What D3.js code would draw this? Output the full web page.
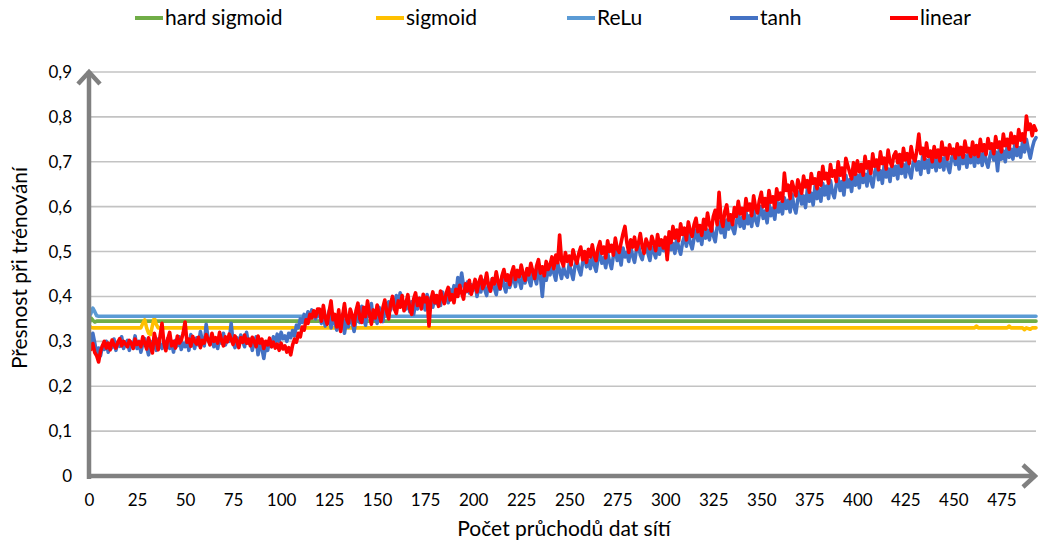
<!DOCTYPE html>
<html><head><meta charset="utf-8">
<script src="https://cdn.jsdelivr.net/npm/d3@7/dist/d3.min.js"></script>
<style>
body{margin:0;background:#fff}
text{font-family:Lato,"Open Sans",sans-serif;fill:#000}
</style>
</head><body>
<svg id="chart" width="1038" height="544"></svg>
<script>
const seriesNames = ["hard sigmoid","sigmoid","ReLu","tanh","linear"];
const seriesColors = ["#70AD47","#FFC000","#5B9BD5","#4472C4","#FF0000"];
const xTickLabels = [0,25,50,75,100,125,150,175,200,225,250,275,300,325,350,375,400,425,450,475];
const yTickValues = [0,0.1,0.2,0.3,0.4,0.5,0.6,0.7,0.8,0.9];
const xTitle = "Počet průchodů dat sítí";
const yTitle = "Přesnost při trénování";
const lastIndex = 493;

// flat series given as (index, value) pairs where they change
const hardSigmoidIdx = [0,1,2,3,4,493];
const hardSigmoidVals = [.338,.352,.347,.343,.345,.345];
const sigmoidIdx = [0,1,2,27,28,29,30,31,32,33,34,35,36,461,462,463,478,479,480,486,487,488,490,491,493];
const sigmoidVals = [.335,.331,.330,.330,.340,.348,.330,.318,.315,.335,.352,.338,.330,.330,.334,.330,.330,.334,.330,.330,.326,.330,.327,.330,.330];
const reluIdx = [0,1,2,3,4,5,493];
const reluVals = [.355,.362,.374,.366,.357,.356,.356];

const tanhVals = [
.275,.300,.318,.296,.272,.285,.268,.290,.282,.300,.276,.294,.286,.305,.280,.298,.289,.310,.284,.296,
.302,.280,.298,.290,.312,.284,.300,.276,.295,.306,.288,.270,.300,.285,.296,.280,.305,.292,.284,.300,
.290,.306,.284,.298,.276,.302,.290,.310,.282,.296,.288,.304,.280,.315,.296,.284,.308,.292,.322,.300,
.290,.338,.305,.294,.312,.288,.300,.284,.310,.296,.318,.292,.306,.300,.340,.298,.286,.308,.295,.314,
.300,.288,.320,.296,.305,.280,.298,.310,.270,.295,.285,.262,.292,.280,.302,.288,.310,.296,.316,.300,
.320,.306,.312,.300,.318,.308,.324,.312,.336,.330,.350,.342,.360,.348,.366,.352,.370,.358,.350,.364,
.362,.340,.356,.334,.348,.368,.330,.352,.342,.325,.350,.338,.360,.318,.346,.332,.356,.344,.322,.350,
.368,.342,.378,.350,.336,.370,.356,.384,.348,.362,.340,.376,.358,.344,.380,.362,.388,.370,.395,.378,
.402,.380,.408,.392,.386,.372,.398,.366,.388,.360,.384,.372,.396,.378,.392,.370,.404,.380,.396,.376,
.402,.384,.398,.380,.410,.390,.404,.386,.416,.396,.424,.402,.442,.418,.452,.424,.410,.432,.408,.426,
.414,.432,.400,.424,.410,.436,.416,.402,.430,.412,.440,.420,.404,.432,.416,.444,.424,.410,.438,.420,
.434,.446,.422,.452,.436,.418,.448,.430,.456,.438,.424,.460,.442,.428,.464,.446,.400,.452,.436,.458,
.448,.470,.452,.436,.474,.458,.440,.466,.450,.443,.472,.456,.438,.468,.482,.460,.448,.476,.488,.466,
.480,.462,.492,.470,.456,.484,.498,.474,.486,.464,.496,.478,.462,.490,.504,.480,.494,.470,.508,.488,
.498,.478,.512,.490,.476,.504,.516,.492,.482,.506,.520,.496,.480,.510,.500,.486,.514,.494,.522,.502,
.512,.490,.526,.504,.518,.496,.530,.508,.494,.520,.534,.512,.542,.520,.506,.530,.548,.524,.538,.516,
.552,.530,.548,.526,.560,.536,.522,.554,.566,.542,.558,.532,.570,.550,.578,.552,.540,.566,.582,.556,
.576,.552,.588,.562,.580,.556,.594,.570,.558,.584,.600,.574,.590,.564,.606,.580,.596,.572,.614,.588,
.608,.584,.620,.596,.614,.588,.628,.600,.586,.616,.634,.606,.624,.598,.640,.612,.630,.604,.646,.618,
.640,.612,.652,.626,.646,.618,.658,.632,.620,.648,.664,.636,.656,.626,.670,.644,.660,.634,.676,.648,
.670,.642,.682,.654,.672,.646,.686,.658,.644,.676,.690,.660,.680,.652,.694,.666,.684,.656,.698,.670,
.690,.662,.702,.674,.694,.666,.704,.678,.664,.696,.708,.682,.700,.672,.712,.686,.704,.676,.714,.688,
.706,.680,.716,.688,.708,.682,.718,.690,.676,.706,.720,.694,.712,.684,.722,.696,.714,.688,.724,.698,
.716,.690,.726,.698,.718,.692,.728,.702,.688,.712,.730,.704,.722,.680,.732,.706,.724,.700,.734,.710,
.728,.706,.740,.714,.732,.710,.744,.722,.750,.728,.708,.730,.746,.754
];

const linearVals = [
.287,.282,.295,.275,.268,.254,.278,.290,.300,.285,.296,.281,.303,.292,.285,.298,.306,.290,.300,.294,
.288,.302,.296,.284,.305,.293,.299,.288,.310,.296,.283,.308,.290,.274,.318,.300,.281,.312,.340,.296,
.279,.305,.320,.290,.300,.285,.312,.296,.302,.318,.343,.298,.305,.289,.311,.300,.294,.309,.286,.302,
.296,.315,.304,.292,.318,.300,.308,.296,.320,.302,.290,.310,.299,.316,.305,.293,.312,.300,.286,.308,
.298,.314,.296,.305,.290,.309,.300,.288,.312,.296,.305,.284,.300,.292,.307,.288,.298,.285,.294,.280,
.296,.283,.290,.276,.286,.270,.292,.305,.298,.318,.310,.332,.325,.348,.340,.360,.352,.368,.355,.372,
.372,.345,.380,.352,.338,.366,.390,.348,.360,.332,.370,.322,.356,.384,.350,.340,.372,.358,.336,.368,
.385,.350,.342,.376,.355,.390,.362,.338,.370,.352,.381,.360,.344,.375,.392,.366,.350,.384,.400,.372,
.362,.390,.376,.402,.368,.385,.404,.372,.360,.394,.408,.380,.396,.372,.405,.388,.398,.334,.392,.410,
.386,.402,.378,.412,.396,.384,.408,.420,.392,.404,.386,.416,.400,.425,.408,.394,.428,.412,.436,.405,
.420,.438,.410,.432,.445,.418,.428,.452,.424,.412,.440,.428,.455,.432,.418,.446,.460,.436,.448,.426,
.452,.466,.438,.458,.444,.470,.450,.436,.462,.448,.474,.456,.440,.468,.482,.452,.466,.446,.478,.460,
.470,.488,.462,.492,.475,.537,.480,.468,.498,.478,.490,.470,.504,.486,.474,.496,.510,.482,.500,.476,
.505,.488,.515,.492,.480,.508,.522,.496,.510,.486,.524,.500,.514,.492,.530,.506,.498,.520,.540,.556,
.520,.498,.526,.510,.532,.504,.518,.540,.512,.496,.528,.516,.506,.534,.520,.502,.538,.514,.526,.508,
.532,.482,.544,.520,.556,.530,.548,.524,.562,.538,.552,.526,.566,.546,.534,.560,.574,.544,.558,.536,
.572,.550,.586,.560,.546,.578,.592,.560,.632,.574,.556,.590,.604,.570,.582,.560,.598,.578,.612,.584,
.596,.574,.618,.592,.606,.580,.624,.598,.586,.614,.632,.600,.618,.592,.636,.610,.622,.598,.640,.616,
.630,.612,.675,.636,.648,.618,.656,.640,.624,.660,.646,.630,.668,.644,.658,.632,.674,.652,.662,.640,
.676,.648,.690,.662,.674,.652,.694,.668,.680,.656,.700,.670,.686,.660,.708,.692,.676,.662,.698,.672,
.702,.678,.694,.670,.712,.686,.700,.674,.718,.690,.704,.682,.722,.696,.708,.684,.726,.700,.690,.714,
.722,.698,.716,.690,.730,.704,.718,.696,.734,.710,.702,.726,.762,.718,.730,.706,.742,.712,.724,.700,
.734,.710,.726,.702,.744,.716,.730,.706,.738,.718,.728,.708,.740,.716,.732,.710,.746,.722,.730,.712,
.744,.716,.736,.712,.750,.724,.738,.716,.752,.730,.740,.718,.756,.732,.744,.722,.762,.736,.750,.728,
.764,.742,.756,.734,.772,.748,.762,.744,.802,.772,.784,.758,.780,.770
];

const svg = d3.select("#chart");
const x = d3.scaleLinear().domain([0, lastIndex]).range([89, 1036]);
const y = d3.scaleLinear().domain([0, 0.9]).range([476, 72]);

// gridlines
svg.append("g").selectAll("line").data(yTickValues.filter(v => v > 0)).join("line")
  .attr("x1", x(0)).attr("x2", x(lastIndex))
  .attr("y1", d => y(d)).attr("y2", d => y(d))
  .attr("stroke", "#c3c3c3").attr("stroke-width", 1.6);

// y tick labels
const fmt = d => d === 0 ? "0" : d.toFixed(1).replace(".", ",");
const yAxis = svg.append("g").attr("transform", `translate(${x(0)},0)`)
  .call(d3.axisLeft(y).tickValues(yTickValues).tickSize(0).tickPadding(17).tickFormat(fmt));
yAxis.select(".domain").remove();
yAxis.selectAll("text").attr("font-size", 17).attr("font-family", "Lato").attr("fill", "#000");

// x tick labels
const xAxis = svg.append("g").attr("transform", `translate(0,${y(0)})`)
  .call(d3.axisBottom(x).tickValues(xTickLabels).tickSize(0).tickPadding(18).tickFormat(d => d));
xAxis.select(".domain").remove();
xAxis.selectAll("text").attr("font-size", 17).attr("font-family", "Lato").attr("fill", "#000");

// series
const line = d3.line().x(d => x(d[0])).y(d => y(d[1]));
const pairs = (idx, vals) => idx.map((i, k) => [i, vals[k]]);
const seriesData = [
  pairs(hardSigmoidIdx, hardSigmoidVals),
  pairs(sigmoidIdx, sigmoidVals),
  pairs(reluIdx, reluVals),
  tanhVals.map((v, i) => [i, v]),
  linearVals.map((v, i) => [i, v])
];
svg.append("g").selectAll("path").data(seriesData).join("path")
  .attr("d", d => line(d))
  .attr("fill", "none")
  .attr("stroke", (d, i) => seriesColors[i])
  .attr("stroke-width", 3.6)
  .attr("stroke-linejoin", "round")
  .attr("stroke-linecap", "round");

// axis lines with arrows
const axisColor = "#808080";
const ag = svg.append("g").attr("fill", "none").attr("stroke", axisColor).attr("stroke-width", 4.5);
ag.append("path").attr("d", `M${x(0)},${y(0) + 3}L${x(0)},${y(0.9) - 1}`);
ag.append("path").attr("d", `M${x(0) - 11},${y(0.9) + 12}L${x(0)},${y(0.9)}L${x(0) + 11},${y(0.9) + 12}`);
ag.append("path").attr("d", `M${x(0) - 2},${y(0)}L${x(lastIndex) - 1},${y(0)}`);
ag.append("path").attr("d", `M${x(lastIndex) - 13},${y(0) - 11}L${x(lastIndex) - 1},${y(0)}L${x(lastIndex) - 13},${y(0) + 11}`);

// axis titles
svg.append("text").attr("x", 564).attr("y", 536).attr("text-anchor", "middle")
  .attr("font-size", 21).text(xTitle);
svg.append("text").attr("transform", "translate(27,268) rotate(-90)").attr("text-anchor", "middle")
  .attr("font-size", 21).text(yTitle);

// legend
const legendX = [135, 376, 567, 730, 890];
const lg = svg.append("g").selectAll("g").data(seriesNames).join("g")
  .attr("transform", (d, i) => `translate(${legendX[i]},18)`);
lg.append("line").attr("x1", 0).attr("x2", 28).attr("y1", 0).attr("y2", 0)
  .attr("stroke", (d, i) => seriesColors[i]).attr("stroke-width", 4);
lg.append("text").attr("x", 30).attr("y", 7).attr("font-size", 21).text(d => d);
</script>
</body></html>
